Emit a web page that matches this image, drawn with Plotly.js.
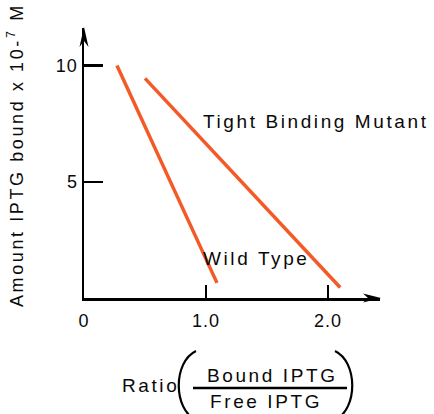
<!DOCTYPE html>
<html>
<head>
<meta charset="utf-8">
<script src="https://cdn.plot.ly/plotly-3.0.1.min.js"></script>
<style>
  html, body { margin: 0; padding: 0; background: #fff; }
  #chart { width: 434px; height: 414px; }
  .annotation-text { letter-spacing: 2.6px; }
  .xtick text, .ytick text { letter-spacing: 1px; }
</style>
</head>
<body>
<div id="chart"></div>
<script>
// Data
const wildTypeRatio   = [0.27, 1.09];
const wildTypeBound   = [10.0, 0.65];
const mutantRatio     = [0.50, 2.10];
const mutantBound     = [9.45, 0.45];
const xTickVals = [0, 1, 2];
const xTickText = ['0', '1.0', '2.0'];
const yTickVals = [5, 10];
const yTickText = ['5', '10'];
const seriesNames = ['Wild Type', 'Tight Binding Mutant'];

// layout geometry (pixels)
const W = 434, H = 414;
const mL = 84, mR = 54, mT = 28, mB = 116;
const plotW = W - mL - mR, plotH = H - mT - mB;
const pxX = p => (p - mL) / plotW;
const pxY = p => (H - mB - p) / plotH;

const FONT = 'Liberation Sans, Arial, Helvetica, sans-serif';
const LINE_COLOR = '#F45A28';
const TEXT_COLOR = '#0a0a0a';

const traces = [
  { x: wildTypeRatio, y: wildTypeBound, name: seriesNames[0], mode: 'lines',
    line: { color: LINE_COLOR, width: 3.5 }, hoverinfo: 'skip' },
  { x: mutantRatio, y: mutantBound, name: seriesNames[1], mode: 'lines',
    line: { color: LINE_COLOR, width: 3.5 }, hoverinfo: 'skip' }
];

function arrowPath(tipX, tipY, dir) {
  let pts;
  if (dir === 'right') {
    pts = [[tipX, tipY], [tipX - 18, tipY - 4.5], [tipX - 13, tipY], [tipX - 18, tipY + 4.5]];
  } else {
    pts = [[tipX, tipY], [tipX - 4.5, tipY + 20], [tipX, tipY + 14], [tipX + 4.5, tipY + 20]];
  }
  return 'M ' + pts.map(p => pxX(p[0]).toFixed(5) + ',' + pxY(p[1]).toFixed(5)).join(' L ') + ' Z';
}

function parenPath(x0, yTop, yBot, bulge) {
  const c1y = yTop + (yBot - yTop) * 0.16, c2y = yBot - (yBot - yTop) * 0.16;
  const cx = x0 + bulge;
  return 'M ' + pxX(x0) + ',' + pxY(yTop) +
         ' C ' + pxX(cx) + ',' + pxY(c1y) + ' ' + pxX(cx) + ',' + pxY(c2y) + ' ' +
         pxX(x0) + ',' + pxY(yBot);
}

const txt = (text, x, y, xanchor, extra) => Object.assign({
  text: text, xref: 'paper', yref: 'paper', x: pxX(x), y: pxY(y),
  xanchor: xanchor, yanchor: 'middle', showarrow: false,
  font: { family: FONT, size: 19, color: TEXT_COLOR }
}, extra || {});

const layout = {
  width: W, height: H,
  margin: { l: mL, r: mR, t: mT, b: mB, pad: 0 },
  paper_bgcolor: '#fff', plot_bgcolor: '#fff',
  showlegend: false,
  font: { family: FONT, size: 18, color: TEXT_COLOR },
  xaxis: {
    range: [0, plotW / 122], showgrid: false, zeroline: false,
    showline: true, linecolor: '#000', linewidth: 2.5,
    ticks: 'inside', ticklen: 13, tickwidth: 2.5, tickcolor: '#000',
    tickmode: 'array', tickvals: xTickVals, ticktext: xTickText,
    ticklabelstandoff: 5,
    tickfont: { family: FONT, size: 18, color: TEXT_COLOR }
  },
  yaxis: {
    range: [0, plotH / 23.24], showgrid: false, zeroline: false,
    showline: true, linecolor: '#000', linewidth: 2.5,
    ticks: 'inside', ticklen: 19, tickwidth: 2.5, tickcolor: '#000',
    tickmode: 'array', tickvals: yTickVals, ticktext: yTickText,
    ticklabelstandoff: 0,
    tickfont: { family: FONT, size: 18, color: TEXT_COLOR }
  },
  shapes: [
    { type: 'path', xref: 'paper', yref: 'paper', path: arrowPath(381, H - mB, 'right'),
      fillcolor: '#000', line: { width: 0 } },
    { type: 'path', xref: 'paper', yref: 'paper', path: arrowPath(84, 27, 'up'),
      fillcolor: '#000', line: { width: 0 } },
    { type: 'line', xref: 'paper', yref: 'paper', x0: pxX(193), x1: pxX(347),
      y0: pxY(388), y1: pxY(388), line: { color: '#000', width: 2.5 } },
    { type: 'path', xref: 'paper', yref: 'paper', path: parenPath(196, 351, 420, -23),
      line: { color: '#000', width: 2.2 } },
    { type: 'path', xref: 'paper', yref: 'paper', path: parenPath(335, 351, 420, 23),
      line: { color: '#000', width: 2.2 } }
  ],
  annotations: [
    txt(seriesNames[1], 201, 122, 'left'),
    txt(seriesNames[0], 201, 258, 'left'),
    txt('Ratio', 120, 385, 'left'),
    txt('Bound IPTG', 272, 375, 'center'),
    txt('Free IPTG', 266, 401, 'center'),
    txt('Amount IPTG bound x 10-<sup>7</sup> M', 15, 155, 'center',
        { textangle: -90, font: { family: FONT, size: 18, color: TEXT_COLOR } })
  ]
};

Plotly.newPlot('chart', traces, layout, { displayModeBar: false, staticPlot: true });
</script>
</body>
</html>
